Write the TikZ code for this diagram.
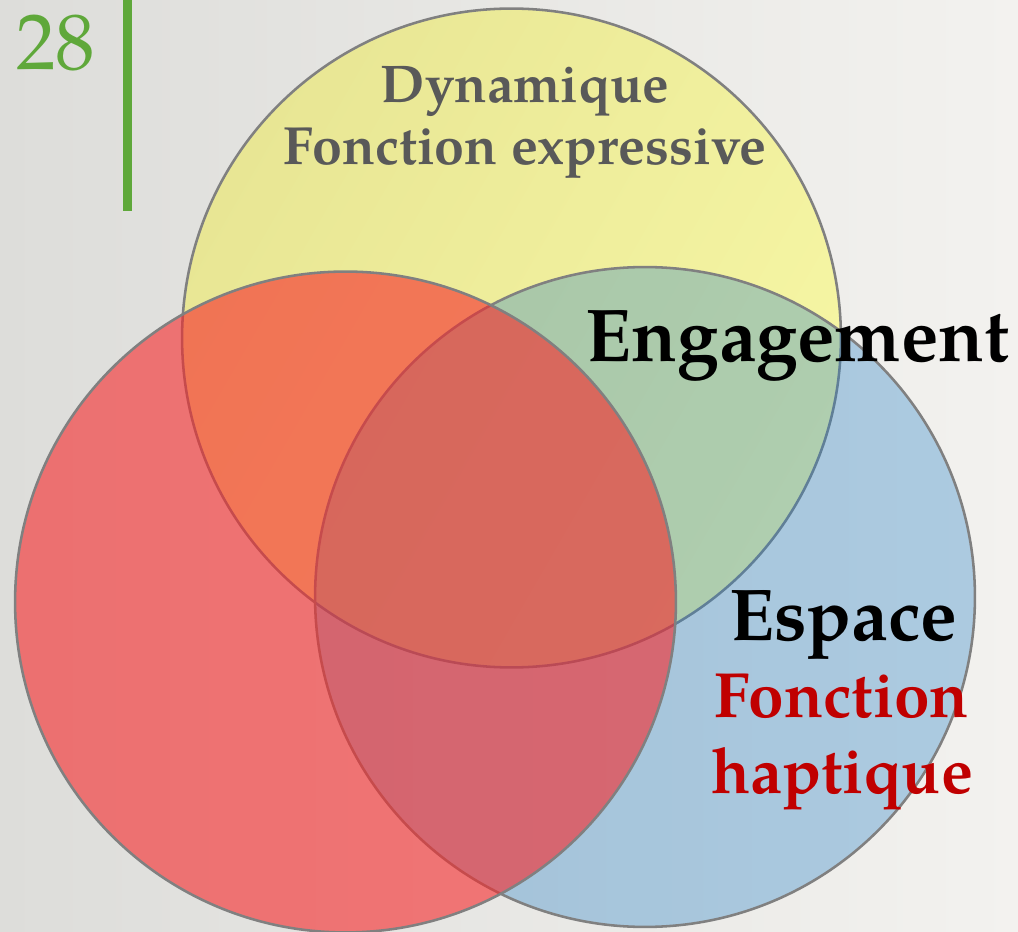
\documentclass[tikz,border=0pt]{standalone}
\usepackage{fontspec}
\setmainfont{TeX Gyre Pagella}
\begin{document}
\begin{tikzpicture}[x=0.02cm,y=-0.02cm,
  ring/.style={draw=ringgray,line width=1.45pt},
  lbl/.style={anchor=base,inner sep=0pt,font=\bfseries}]
\definecolor{ringgray}{RGB}{128,128,128}
\definecolor{bgL}{RGB}{221,221,218}
\definecolor{bgR}{RGB}{243,242,239}
\definecolor{yelL}{RGB}{232,230,148}
\definecolor{yelR}{RGB}{246,246,164}
\definecolor{bluef}{RGB}{31,125,198}
\definecolor{redf}{RGB}{246,40,42}
\definecolor{greenacc}{RGB}{95,168,58}
\definecolor{txtgray}{RGB}{89,89,89}
\definecolor{darkred}{RGB}{192,0,0}
\useasboundingbox (0,0) rectangle (1018,932);
\shade[left color=bgL,right color=bgR] (0,0) rectangle (1018,932);
% page marker
\fill[greenacc] (123,0) rectangle (132,211);
\node[anchor=base west,inner sep=0pt,text=greenacc,font=\fontsize{45}{50}\selectfont] (num) at (16,70) {28};
% circles
\shade[left color=yelL,right color=yelR,shading angle=60] (511.5,338) circle [radius=6.59cm];
\draw[ring] (511.5,338) circle [radius=6.59cm];
\fill[bluef,fill opacity=0.33] (645,597) circle [radius=6.6cm];
\draw[ring] (645,597) circle [radius=6.6cm];
\fill[redf,fill opacity=0.6] (345.5,602) circle [radius=6.61cm];
\draw[ring] (345.5,602) circle [radius=6.61cm];
% labels
\node[lbl,text=txtgray,font=\bfseries\fontsize{30.2}{35}\selectfont] (dyn1) at (525,103) {Dynamique};
\node[lbl,text=txtgray,font=\bfseries\fontsize{30.6}{35}\selectfont] (dyn2) at (525,165) {Fonction expressive};
\node[lbl,text=black,font=\bfseries\fontsize{42.6}{50}\selectfont] (eng) at (797.5,362) {Engagement};
\node[lbl,text=black,font=\bfseries\fontsize{41.8}{48}\selectfont] (esp) at (843.5,640) {Espace};
\node[lbl,text=darkred,font=\bfseries\fontsize{36.4}{42}\selectfont] (fon) at (841.5,717) {Fonction};
\node[lbl,text=darkred,font=\bfseries\fontsize{36.4}{42}\selectfont] (hap) at (842,793) {haptique};
\end{tikzpicture}
\end{document}
